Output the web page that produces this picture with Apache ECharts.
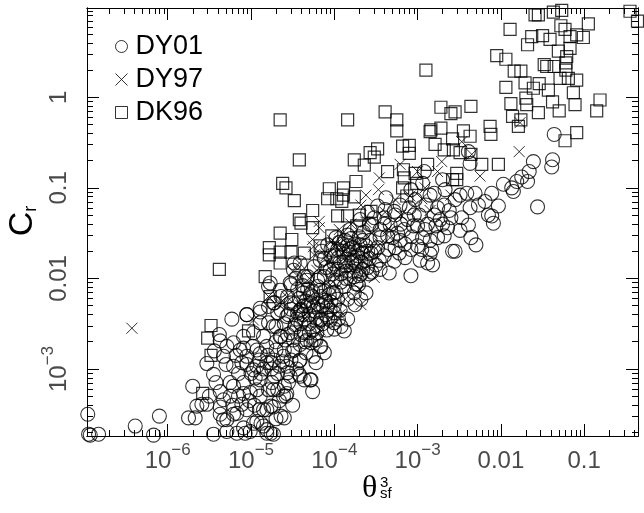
<!DOCTYPE html>
<html>
<head>
<meta charset="utf-8">
<script src="https://cdn.jsdelivr.net/npm/echarts@6/dist/echarts.min.js"></script>
<style>
  html, body { margin: 0; padding: 0; background: #fff; }
  #chart { width: 644px; height: 513px; }
</style>
</head>
<body>
<div id="chart"></div>
<script>
// values are stored as exponents: [log10(theta_sf^3), log10(C_r)]
var dy01 = [
  [-2.70,-0.91],[-2.80,-1.06],[-2.92,-0.82],[-2.94,-0.95],[-3.08,-1.02],[-3.38,-1.11],[-3.28,-1.26],[-2.68,-1.19],
  [-2.76,-1.22],[-2.90,-1.19],[-2.60,-1.33],[-3.04,-1.30],[-3.52,-1.33],[-3.40,-1.33],
  [-1.36,-0.41],[-1.38,-0.69],[-1.39,-0.77],[-1.61,-0.71],[-1.66,-0.82],[-1.68,-0.93],[-1.75,-0.88],[-1.81,-0.93],
  [-1.87,-1.00],[-1.85,-1.04],[-1.97,-0.96],[-2.11,-1.06],[-2.19,-1.15],[-2.03,-1.20],[-2.15,-1.30],[-2.11,-1.31],
  [-1.56,-1.21],[-2.37,-0.73],[-2.39,-0.60],[-2.31,-1.06],[-2.41,-1.06],[-2.49,-1.08],[-2.27,-1.19],[-2.37,-1.22],
  [-2.47,-1.33],[-2.49,-1.47],[-2.36,-1.55],[-2.30,-1.63],[-2.55,-1.70],[-2.39,-1.41],[-2.09,-1.39],
  [-3.08,-1.97],[-3.34,-1.94],[-2.82,-1.85],[-2.88,-1.83],[-2.85,-1.73],[-2.83,-1.68],[-3.08,-1.68],[-3.00,-1.64],
  [-2.94,-1.55],[-2.76,-1.55],[-2.68,-1.53],[-2.58,-1.70],[-2.64,-1.44],[-2.78,-1.42],[-3.00,-1.42],[-3.28,-1.81],
  [-3.40,-1.75],[-3.50,-1.85],[-3.56,-1.72],[-3.24,-1.50],[-3.16,-1.46],[-3.36,-1.53],[-3.96,-1.68],[-3.84,-1.64],
  [-3.72,-1.75],[-3.66,-1.90],[-3.76,-1.98],[-3.62,-2.16],[-3.68,-2.23],[-3.84,-2.45],[-3.88,-2.58],[-3.92,-2.53],
  [-4.00,-2.49],[-4.12,-2.82],[-4.22,-2.93],[-4.26,-3.25],[-4.28,-3.12],[-4.36,-3.12],[-4.42,-3.06],[-4.56,-3.04],
  [-4.60,-3.19],[-4.58,-3.30],[-4.68,-3.23],[-4.64,-3.52],[-4.60,-3.54],[-4.76,-3.71],[-4.42,-2.91],[-4.34,-2.82],
  [-4.24,-2.68],[-4.36,-2.60],[-4.52,-2.60],[-4.64,-2.64],[-4.70,-2.53],[-4.68,-2.38],[-4.52,-2.34],[-4.40,-2.34],
  [-4.28,-2.27],[-4.16,-2.20],[-4.08,-2.31],[-4.00,-2.38],[-4.16,-2.45],[-4.36,-2.45],[-4.52,-2.27],[-4.64,-2.20],
  [-4.72,-2.27],[-4.44,-2.12],[-4.32,-2.12],[-4.12,-1.98],[-4.36,-1.98],[-4.52,-2.07],[-4.20,-2.09],[-4.24,-1.87],
  [-4.04,-1.75],[-3.96,-1.90],[-3.88,-2.09],[-3.76,-2.16],[-3.84,-2.23],[-3.96,-2.23],[-4.60,-2.79],[-4.48,-2.79],
  [-4.70,-2.79],[-4.16,-2.75],[-4.28,-2.71],[-4.76,-2.93],[-4.66,-2.97],[-4.52,-2.90],[-4.72,-3.08],[-4.76,-3.41],
  [-4.48,-1.83],[-4.32,-1.98],
  [-5.23,-2.45],[-5.05,-2.40],[-4.89,-2.37],[-4.79,-2.49],[-4.79,-2.31],[-4.79,-2.09],[-5.38,-2.62],[-5.37,-2.69],
  [-5.21,-2.71],[-5.09,-2.77],[-4.93,-2.79],[-4.85,-2.64],[-5.53,-2.94],[-5.33,-2.86],[-5.45,-3.06],[-5.21,-2.97],
  [-5.11,-2.93],[-4.97,-3.01],[-4.89,-3.12],[-4.81,-2.93],[-5.70,-3.19],[-5.65,-3.41],[-5.59,-3.39],[-5.53,-3.39],
  [-5.75,-3.54],[-5.67,-3.54],[-5.37,-3.25],[-5.33,-3.34],[-5.37,-3.50],[-5.33,-3.56],[-5.21,-3.50],[-5.11,-3.39],
  [-5.21,-3.19],[-5.09,-3.15],[-5.01,-3.26],[-4.89,-3.30],[-4.79,-3.23],[-4.81,-3.45],[-4.93,-3.58],[-5.09,-3.65],
  [-5.29,-3.69],[-5.17,-3.71],[-5.01,-3.69],[-5.45,-3.72],[-6.10,-3.52],[-6.39,-3.63],[-6.17,-3.73],[-6.83,-3.72],
  [-6.96,-3.50],[-6.95,-3.72],[-6.93,-3.73],[-4.85,-3.63],[-4.81,-3.71],[-4.73,-3.72],[-5.07,-3.71],
  [-5.29,-2.75],[-5.13,-2.79],[-5.05,-2.86],[-4.93,-2.97],[-4.89,-2.83],[-4.81,-2.75],[-4.73,-2.90],[-4.61,-2.86],
  [-4.53,-3.08],[-4.41,-2.90],[-4.25,-2.86],[-4.17,-2.75],[-4.33,-2.68],[-4.49,-2.68],[-4.65,-2.64],[-4.41,-3.08],
  [-4.29,-3.12],[-4.57,-3.27],[-4.73,-3.23],[-4.93,-3.23],[-5.09,-3.27],[-5.25,-3.30],[-5.37,-3.42],[-4.73,-3.42],
  [-4.85,-3.45],[-5.05,-3.45],[-5.17,-3.49],[-5.29,-3.56],[-4.97,-3.60],[-4.81,-3.67],[-4.61,-3.30],[-4.57,-2.97],
  [-4.97,-2.60],[-5.09,-2.64],[-4.89,-2.49],[-4.73,-2.53],[-4.57,-2.42],[-4.41,-2.35],[-4.25,-2.31],[-4.17,-2.46],
  [-4.09,-2.57],[-4.21,-2.60],[-4.05,-2.35],[-4.01,-2.16],[-4.17,-2.13],[-4.37,-2.16],[-4.53,-2.05],[-4.33,-2.02],
  [-4.17,-1.98],[-4.05,-1.91],[-4.41,-1.83],[-4.49,-1.91],[-4.65,-2.13],[-4.73,-2.27],[-4.77,-2.05],[-4.89,-2.33],
  [-5.05,-2.40],
  [-3.87,-1.58],[-3.79,-1.82],[-3.69,-1.63],[-3.63,-1.80],[-3.93,-1.82],[-3.57,-1.58],[-3.48,-1.66],[-3.45,-1.46],
  [-3.65,-1.49],[-3.81,-1.46],[-4.08,-1.63],[-4.17,-1.80],[-3.99,-2.02],[-3.81,-2.00],[-3.71,-2.07],[-3.55,-1.93],
  [-3.27,-1.66],[-3.21,-1.58],[-3.33,-1.41],[-3.12,-1.35],[-3.07,-1.54],[-3.15,-1.77],[-2.97,-1.80],[-3.93,-2.35],
  [-4.05,-2.46],[-4.26,-2.57],[-4.47,-2.51],[-4.59,-2.68],[-4.41,-2.73],[-4.11,-2.24],[-4.29,-2.18],[-3.75,-2.29],
  [-3.55,-1.41],[-3.39,-1.24],[-3.21,-1.19],[-3.03,-1.13],[-2.85,-1.08],[-2.67,-1.02],[-2.55,-1.13],[-2.73,-1.35],
  [-2.91,-1.46],[-2.85,-1.58],[-3.27,-1.30],[-3.60,-1.27],[-3.69,-1.35],
  [-4.15,-1.70],[-4.10,-1.88],[-4.02,-1.95],[-3.95,-1.77],[-3.90,-1.70],[-3.85,-1.92],[-3.82,-1.74],[-3.78,-1.66],
  [-3.74,-1.86],[-3.70,-1.97],[-3.66,-1.72],[-3.62,-1.64],[-3.60,-1.88],[-3.92,-2.04],[-4.06,-2.10],[-3.98,-2.15],
  [-3.86,-2.00],[-3.74,-2.06],[-4.12,-1.78],[-4.00,-1.84],[-3.94,-1.60],[-3.80,-1.56],[-3.70,-1.54],[-3.58,-1.78],
  [-3.52,-1.70],[-3.46,-1.80],[-3.88,-1.82],[-4.04,-1.68],[-3.76,-1.80],[-3.68,-1.82],
  [-4.55,-2.40],[-4.48,-2.28],[-4.45,-2.45],[-4.38,-2.40],[-4.34,-2.25],[-4.30,-2.50],[-4.24,-2.36],[-4.20,-2.52],
  [-4.14,-2.30],[-4.10,-2.40],[-4.48,-2.55],[-4.40,-2.62],[-4.30,-2.60],[-4.22,-2.68],[-4.56,-2.20],[-4.46,-2.00],
  [-4.38,-2.08],[-4.26,-2.14],[-4.20,-2.02],[-4.12,-2.14],[-4.60,-2.50],[-4.64,-2.35],[-4.56,-2.62],[-4.35,-2.70],
  [-4.04,-2.26],[-4.00,-2.56],
  [-4.95,-3.10],[-4.85,-3.00],[-4.75,-3.15],[-4.68,-3.05],[-4.62,-2.92],[-4.55,-3.15],[-4.50,-2.80],[-4.45,-3.00],
  [-4.70,-2.70],[-4.80,-2.85],[-4.90,-2.90],[-5.00,-3.05],[-4.66,-3.35],[-4.50,-3.40],[-4.96,-3.40],[-5.15,-3.05],
  [-5.25,-3.15],[-5.42,-3.15],[-5.50,-3.30],[-5.44,-2.80],
  [-3.45,-1.55],[-3.40,-1.40],[-3.30,-1.55],[-3.20,-1.40],[-3.15,-1.62],[-3.05,-1.42],[-2.98,-1.30],[-2.95,-1.68],
  [-2.88,-1.40],[-2.80,-1.30],[-3.10,-1.22],[-3.35,-1.68],[-3.48,-1.20],[-3.58,-1.40],[-2.70,-1.40],[-2.62,-1.25],
  [-3.22,-1.72],[-3.45,-1.90],
  [-3.98,-1.55],[-3.90,-1.62],[-3.84,-1.52],[-3.76,-1.62],[-3.66,-1.58],[-3.60,-1.70],[-3.72,-1.70],[-3.86,-1.86],
  [-3.78,-1.92],[-3.68,-1.95],[-3.58,-1.95],[-4.00,-1.75],[-3.92,-1.95],[-3.82,-1.68],
  [-4.42,-2.22],[-4.36,-2.30],[-4.30,-2.40],[-4.26,-2.20],[-4.22,-2.44],[-4.18,-2.35],[-4.14,-2.50],[-4.08,-2.44],
  [-4.06,-2.18],[-4.00,-2.30],[-3.95,-2.45],[-4.44,-2.38],[-4.32,-2.30],[-4.20,-2.28],[-4.40,-2.50],[-4.10,-2.26],
  [-5.30,-2.95],[-5.18,-2.85],[-5.05,-2.95],[-4.98,-2.75],[-4.88,-3.05],[-4.75,-3.00],[-5.15,-3.30],[-5.02,-3.35],
  [-4.90,-3.45],[-5.22,-3.40],[-4.70,-3.55],[-4.88,-3.60]
];

var dy97 = [
  [-3.21,-0.74],[-2.71,-0.71],[-3.46,-0.89],[-3.62,-1.08],[-3.47,-1.02],[-3.00,-0.82],[-2.76,-0.82],[-2.60,-1.08],
  [-3.68,-1.19],[-4.18,-1.37],[-1.78,-0.60],[-2.25,-0.87],[-1.77,-0.28],[-2.47,-0.49],[-2.35,-0.63],[-4.18,-1.44],
  [-3.94,-1.46],[-4.50,-1.92],[-4.24,-1.74],[-3.52,-1.99],[-3.68,-2.29],[-4.08,-1.83],[-3.80,-1.87],[-4.26,-1.57],
  [-4.42,-1.83],[-6.43,-2.55],[-4.97,-2.46],[-4.79,-2.20],[-4.65,-2.27],[-4.41,-1.98],[-4.21,-1.91],[-4.57,-2.20],
  [-4.41,-2.53],[-4.33,-2.42],[-4.05,-2.07],[-3.87,-2.23],[-3.75,-1.69],[-3.62,-1.38],[-3.39,-1.27],[-3.27,-1.13],
  [-3.09,-1.09],[-2.91,-1.00],[-3.33,-1.55],[-3.99,-1.63],[-3.93,-2.40],[-4.17,-2.57],
  [-4.10,-1.75],[-3.95,-1.90],[-3.85,-1.78],[-3.72,-1.60],[-3.64,-1.94],[-3.58,-1.70],[-4.02,-1.58],[-3.90,-1.50],
  [-3.80,-1.40],[-3.55,-1.50],[-3.45,-1.62],[-3.35,-1.45],[-3.20,-1.30],[-3.05,-1.20],[-2.95,-1.12],[-2.85,-1.25],
  [-4.30,-2.00],[-4.40,-2.30],[-4.25,-1.65],[-3.70,-2.12],
  [-3.88,-1.70],[-3.78,-1.75],[-3.66,-1.80],[-4.00,-1.95],[-3.92,-1.66]
];

var dk96 = [
  [-2.90,0.30],[-4.65,-0.25],[-3.84,-0.25],[-3.39,-0.16],[-3.25,-0.25],[-3.25,-0.37],[-2.72,-0.11],[-2.60,-0.18],
  [-2.84,-0.36],[-2.72,-0.34],[-2.85,-0.38],[-3.18,-0.54],[-3.10,-0.53],[-3.10,-0.62],[-3.48,-0.57],[-3.57,-0.61],
  [-3.52,-0.66],[-3.76,-0.69],[-3.64,-0.75],[-4.42,-0.69],[-2.79,-0.52],[-2.68,-0.58],[-2.58,-0.46],[-2.57,-0.58],
  [-4.62,-0.95],[-4.58,-1.00],[-4.48,-1.14],[-4.26,-1.25],[-4.42,-1.35],[-4.06,-1.01],[-4.08,-1.12],[-3.89,-1.00],
  [-3.89,-1.08],[-3.91,-1.15],[-3.97,-1.12],[-3.74,-0.93],[-3.76,-1.10],[-3.96,-1.31],[-3.84,-1.31],[-3.70,-1.30],
  [-3.36,-0.82],[-3.17,-0.80],[-3.16,-0.89],[-3.03,-0.84],[-3.01,-0.95],[-2.88,-0.74],[-3.18,-1.00],[-2.58,-0.91],
  [-3.56,-1.26],[-3.13,-1.09],
  [-1.59,0.91],[-1.55,0.91],[-1.37,0.94],[-1.27,0.96],[-0.45,0.95],[-0.36,0.84],[-1.89,0.75],[-1.63,0.67],
  [-1.50,0.68],[-1.68,0.58],[-1.41,0.64],[-1.28,0.79],[-1.23,0.75],[-1.17,0.67],[-1.09,0.69],[-1.01,0.66],
  [-0.95,0.81],[-1.17,0.54],[-1.31,0.51],[-1.21,0.45],[-2.05,0.46],[-1.94,0.42],[-1.84,0.29],[-1.76,0.29],
  [-1.48,0.36],[-1.45,0.34],[-1.36,0.34],[-1.22,0.38],[-1.22,0.30],[-1.29,0.21],[-1.19,0.21],[-1.09,0.19],
  [-1.94,0.11],[-1.71,0.16],[-1.61,0.10],[-1.54,0.15],[-1.43,0.08],[-1.13,0.05],[-1.88,-0.07],[-1.70,-0.01],
  [-1.69,-0.08],[-1.55,-0.17],[-1.38,-0.05],[-1.30,-0.15],[-1.11,-0.08],[-0.81,-0.03],[-0.85,-0.15],[-2.36,-0.10],
  [-2.55,-0.16],[-1.86,-0.21],[-1.76,-0.25],[-1.79,-0.32],[-2.13,-0.32],[-2.12,-0.41],[-2.45,-0.37],[-2.37,-0.43],
  [-1.09,-0.39],[-1.23,-0.48],[-2.36,-0.63],[-2.23,-0.74],[-2.03,-0.74],[-2.53,-0.84],[-2.53,-0.91],[-2.49,-0.61],
  [-4.65,-1.50],[-4.51,-1.57],[-4.26,-1.44],[-4.03,-1.53],[-4.17,-1.64],[-4.65,-1.71],[-4.52,-1.71],[-4.65,-1.83],
  [-4.36,-1.72],[-4.40,-1.39],[-3.73,-1.42],
  [-5.38,-1.90],[-4.83,-1.98],[-4.78,-1.66],[-4.78,-1.74],[-4.77,-2.20],[-5.48,-2.52],[-5.52,-2.66],[-5.03,-2.58],
  [-5.48,-2.85],[-5.58,-3.27]
];

var xRange = [-6.969, -0.354];
var yRange = [-3.74, 0.986];
var xMajor = [-6, -5, -4, -3, -2, -1];
var yMajor = [-3, -2, -1, 0];
var xTickLabels = ['{a|10}{s|\u22126}', '{a|10}{s|\u22125}', '{a|10}{s|\u22124}', '{a|10}{s|\u22123}', '{a|0.01}', '{a|0.1}'];
var yTickLabels = ['{a|10}{s|\u22123}', '{a|0.01}', '{a|0.1}', '{a|1}'];

var FONT = 'Liberation Sans';
var crossPath = 'path://M0,0L10,10M10,0L0,10';
var squarePath = 'path://M0,0L10,0L10,10L0,10Z';

// minor ticks of a log axis: 2..9 times each decade
function minorTicks(range) {
  var out = [];
  for (var n = Math.floor(range[0]); n < range[1]; n++) {
    for (var k = 2; k <= 9; k++) {
      var v = n + Math.log10(k);
      if (v > range[0] && v < range[1]) out.push(v);
    }
  }
  return out;
}

var labelRich = {
  a: { fontSize: 24, lineHeight: 38, fontFamily: FONT, color: '#4a4a4a' },
  s: { fontSize: 17, lineHeight: 17, verticalAlign: 'top', fontFamily: FONT, color: '#4a4a4a' }
};

function makeAxis(pos, range, ticks, len, labels, majors, extra) {
  var ax = {
    type: 'value',
    position: pos,
    min: range[0],
    max: range[1],
    splitLine: { show: false },
    axisLine: { show: true, onZero: false, lineStyle: { color: '#000', width: 1 } },
    axisTick: { show: true, inside: true, length: len, customValues: ticks, lineStyle: { color: '#000', width: 1 } },
    axisLabel: { show: false }
  };
  if (labels) {
    ax.axisLabel = Object.assign({
      show: true,
      customValues: majors,
      formatter: function (v) { return labels[majors.indexOf(Math.round(v))] || ''; },
      rich: labelRich,
      fontFamily: FONT,
      color: '#4a4a4a'
    }, extra);
  }
  return ax;
}

var xMinor = minorTicks(xRange);
var yMinor = minorTicks(yRange);

var chart = echarts.init(document.getElementById('chart'));
chart.setOption({
  animation: false,
  backgroundColor: '#fff',
  grid: { left: 87, right: 6, top: 8, bottom: 77 },
  xAxis: [
    makeAxis('bottom', xRange, xMajor, 12, xTickLabels, xMajor, { margin: 6 }),
    makeAxis('bottom', xRange, xMinor, 6),
    makeAxis('top', xRange, xMajor, 12),
    makeAxis('top', xRange, xMinor, 6)
  ],
  yAxis: [
    makeAxis('left', yRange, yMajor, 12, yTickLabels, yMajor, { margin: 9, rotate: 90 }),
    makeAxis('left', yRange, yMinor, 6),
    makeAxis('right', yRange, yMajor, 12),
    makeAxis('right', yRange, yMinor, 6)
  ],
  legend: {
    orient: 'vertical',
    left: 115,
    top: 33,
    padding: 0,
    itemGap: 6,
    itemWidth: 18,
    itemHeight: 12,
    selectedMode: false,
    textStyle: { fontSize: 27, lineHeight: 27, color: '#000', fontFamily: FONT },
    itemStyle: { color: 'rgba(0,0,0,0)', borderColor: '#000', borderWidth: 1 },
    data: [
      { name: 'DY01', icon: 'circle' },
      { name: 'DY97', icon: crossPath },
      { name: 'DK96', icon: squarePath }
    ]
  },
  graphic: [
    {
      type: 'text', x: 23, y: 221, rotation: Math.PI / 2, silent: true,
      style: {
        text: '{c|C}{r|r}', align: 'center', verticalAlign: 'middle',
        rich: {
          c: { fontSize: 34, lineHeight: 34, fontFamily: FONT, fill: '#000' },
          r: { fontSize: 18, lineHeight: 18, verticalAlign: 'bottom', fontFamily: FONT, fill: '#000' }
        }
      }
    },
    { type: 'text', x: 362, y: 489, silent: true,
      style: { text: '\u03b8', fontSize: 32, fontFamily: 'Liberation Serif', fill: '#000', align: 'left', verticalAlign: 'middle' } },
    { type: 'text', x: 380, y: 483, silent: true,
      style: { text: '3', fontSize: 15, fontFamily: FONT, fill: '#000', align: 'left', verticalAlign: 'middle' } },
    { type: 'text', x: 380, y: 494, silent: true,
      style: { text: 'sf', fontSize: 15, fontFamily: FONT, fill: '#000', align: 'left', verticalAlign: 'middle' } }
  ],
  series: [
    {
      name: 'DY01', type: 'scatter', data: dy01, symbol: 'circle', symbolSize: 14, silent: true,
      itemStyle: { color: 'rgba(0,0,0,0)', borderColor: '#000', borderWidth: 1.1 }
    },
    {
      name: 'DY97', type: 'scatter', data: dy97, symbol: crossPath, symbolSize: 11, silent: true,
      itemStyle: { color: 'rgba(0,0,0,0)', borderColor: '#000', borderWidth: 1 }
    },
    {
      name: 'DK96', type: 'scatter', data: dk96, symbol: squarePath, symbolSize: 12, silent: true,
      itemStyle: { color: 'rgba(0,0,0,0)', borderColor: '#000', borderWidth: 1.2 }
    }
  ]
});
</script>
</body>
</html>
